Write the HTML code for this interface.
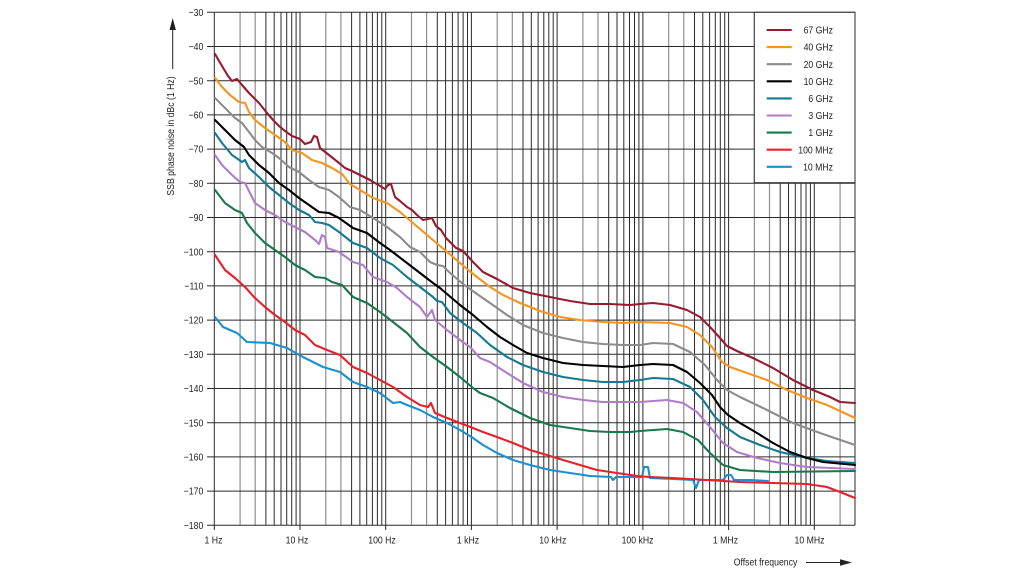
<!DOCTYPE html>
<html>
<head>
<meta charset="utf-8">
<style>
html,body{margin:0;padding:0;background:#fff;}
svg{display:block;}
text{font-family:"Liberation Sans",Arial,sans-serif;font-size:10px;fill:#222;}
</style>
</head>
<body>
<svg width="1024" height="576" viewBox="0 0 1024 576" xmlns="http://www.w3.org/2000/svg">
<rect x="0" y="0" width="1024" height="576" fill="#fff"/>

<!-- vertical grid: 2,3 gray -->
<g stroke="#8f8f8f" stroke-width="1.2">
<line x1="240.1" y1="12.3" x2="240.1" y2="525.3"/><line x1="255.2" y1="12.3" x2="255.2" y2="525.3"/>
<line x1="325.8" y1="12.3" x2="325.8" y2="525.3"/><line x1="340.9" y1="12.3" x2="340.9" y2="525.3"/>
<line x1="411.5" y1="12.3" x2="411.5" y2="525.3"/><line x1="426.6" y1="12.3" x2="426.6" y2="525.3"/>
<line x1="497.2" y1="12.3" x2="497.2" y2="525.3"/><line x1="512.3" y1="12.3" x2="512.3" y2="525.3"/>
<line x1="582.9" y1="12.3" x2="582.9" y2="525.3"/><line x1="598.0" y1="12.3" x2="598.0" y2="525.3"/>
<line x1="668.7" y1="12.3" x2="668.7" y2="525.3"/><line x1="683.8" y1="12.3" x2="683.8" y2="525.3"/>
<line x1="754.4" y1="12.3" x2="754.4" y2="525.3"/><line x1="769.5" y1="12.3" x2="769.5" y2="525.3"/>
<line x1="840.1" y1="12.3" x2="840.1" y2="525.3"/>
</g>
<g stroke="#2a2a2a" stroke-width="1">
<line x1="265.9" y1="12.3" x2="265.9" y2="525.3"/><line x1="274.2" y1="12.3" x2="274.2" y2="525.3"/><line x1="281.0" y1="12.3" x2="281.0" y2="525.3"/><line x1="286.7" y1="12.3" x2="286.7" y2="525.3"/><line x1="291.7" y1="12.3" x2="291.7" y2="525.3"/><line x1="296.1" y1="12.3" x2="296.1" y2="525.3"/>
<line x1="300.0" y1="12.3" x2="300.0" y2="525.3"/>
<line x1="351.6" y1="12.3" x2="351.6" y2="525.3"/><line x1="359.9" y1="12.3" x2="359.9" y2="525.3"/><line x1="366.7" y1="12.3" x2="366.7" y2="525.3"/><line x1="372.4" y1="12.3" x2="372.4" y2="525.3"/><line x1="377.4" y1="12.3" x2="377.4" y2="525.3"/><line x1="381.8" y1="12.3" x2="381.8" y2="525.3"/>
<line x1="385.7" y1="12.3" x2="385.7" y2="525.3"/>
<line x1="437.3" y1="12.3" x2="437.3" y2="525.3"/><line x1="445.6" y1="12.3" x2="445.6" y2="525.3"/><line x1="452.4" y1="12.3" x2="452.4" y2="525.3"/><line x1="458.1" y1="12.3" x2="458.1" y2="525.3"/><line x1="463.1" y1="12.3" x2="463.1" y2="525.3"/><line x1="467.5" y1="12.3" x2="467.5" y2="525.3"/>
<line x1="471.4" y1="12.3" x2="471.4" y2="525.3"/>
<line x1="523.0" y1="12.3" x2="523.0" y2="525.3"/><line x1="531.3" y1="12.3" x2="531.3" y2="525.3"/><line x1="538.1" y1="12.3" x2="538.1" y2="525.3"/><line x1="543.8" y1="12.3" x2="543.8" y2="525.3"/><line x1="548.8" y1="12.3" x2="548.8" y2="525.3"/><line x1="553.2" y1="12.3" x2="553.2" y2="525.3"/>
<line x1="557.1" y1="12.3" x2="557.1" y2="525.3"/>
<line x1="608.7" y1="12.3" x2="608.7" y2="525.3"/><line x1="617.0" y1="12.3" x2="617.0" y2="525.3"/><line x1="623.8" y1="12.3" x2="623.8" y2="525.3"/><line x1="629.5" y1="12.3" x2="629.5" y2="525.3"/><line x1="634.5" y1="12.3" x2="634.5" y2="525.3"/><line x1="638.9" y1="12.3" x2="638.9" y2="525.3"/>
<line x1="642.9" y1="12.3" x2="642.9" y2="525.3"/>
<line x1="694.5" y1="12.3" x2="694.5" y2="525.3"/><line x1="702.8" y1="12.3" x2="702.8" y2="525.3"/><line x1="709.6" y1="12.3" x2="709.6" y2="525.3"/><line x1="715.3" y1="12.3" x2="715.3" y2="525.3"/><line x1="720.3" y1="12.3" x2="720.3" y2="525.3"/><line x1="724.7" y1="12.3" x2="724.7" y2="525.3"/>
<line x1="728.6" y1="12.3" x2="728.6" y2="525.3"/>
<line x1="780.2" y1="12.3" x2="780.2" y2="525.3"/><line x1="788.5" y1="12.3" x2="788.5" y2="525.3"/><line x1="795.3" y1="12.3" x2="795.3" y2="525.3"/><line x1="801.0" y1="12.3" x2="801.0" y2="525.3"/><line x1="806.0" y1="12.3" x2="806.0" y2="525.3"/><line x1="810.4" y1="12.3" x2="810.4" y2="525.3"/>
<line x1="814.3" y1="12.3" x2="814.3" y2="525.3"/>
</g>

<!-- horizontal grid + left ticks -->
<g stroke="#2a2a2a" stroke-width="1">
<line x1="207" y1="12.3" x2="855" y2="12.3"/>
<line x1="207" y1="46.5" x2="855" y2="46.5"/>
<line x1="207" y1="80.7" x2="855" y2="80.7"/>
<line x1="207" y1="114.9" x2="855" y2="114.9"/>
<line x1="207" y1="149.1" x2="855" y2="149.1"/>
<line x1="207" y1="183.3" x2="855" y2="183.3"/>
<line x1="207" y1="217.5" x2="855" y2="217.5"/>
<line x1="207" y1="251.7" x2="855" y2="251.7"/>
<line x1="207" y1="285.9" x2="855" y2="285.9"/>
<line x1="207" y1="320.1" x2="855" y2="320.1"/>
<line x1="207" y1="354.3" x2="855" y2="354.3"/>
<line x1="207" y1="388.5" x2="855" y2="388.5"/>
<line x1="207" y1="422.7" x2="855" y2="422.7"/>
<line x1="207" y1="456.9" x2="855" y2="456.9"/>
<line x1="207" y1="491.1" x2="855" y2="491.1"/>
<line x1="207" y1="525.3" x2="855" y2="525.3"/>
<!-- borders -->
<line x1="214.3" y1="12.3" x2="214.3" y2="530"/>
<line x1="855" y1="12.3" x2="855" y2="525.3"/>
<!-- bottom ticks -->
<line x1="300.0" y1="525.3" x2="300.0" y2="530"/>
<line x1="385.7" y1="525.3" x2="385.7" y2="530"/>
<line x1="471.4" y1="525.3" x2="471.4" y2="530"/>
<line x1="557.1" y1="525.3" x2="557.1" y2="530"/>
<line x1="642.9" y1="525.3" x2="642.9" y2="530"/>
<line x1="728.6" y1="525.3" x2="728.6" y2="530"/>
<line x1="814.3" y1="525.3" x2="814.3" y2="530"/>
</g>

<!-- curves -->
<g fill="none" stroke-width="2.1" stroke-linejoin="round" stroke-linecap="round">
<polyline stroke="#1b8fd0" points="215,317 223,327 237,333 247,342 270,343 287,348 303,357 323,367 340,372 353,382 367,387 380,393 393,403 400,402 407,405 420,410 433,417 447,423 460,430 473,438 483,445 497,453 513,460 530,465 550,470 570,473 590,476 611,477 613,480 616,477 630,477 642,477 644,467 648,467 650,478 673,479 693,480 696,488 699,480 723,480 727,475 731,475 734,480 750,480 768,481"/>
<polyline stroke="#e8202a" points="215,255 225,270 235,278 245,287 255,298 265,307 275,315 285,322 295,330 305,335 315,345 327,350 340,355 353,367 367,373 380,380 393,387 407,397 420,405 428,407 431,403 435,413 447,418 460,423 473,428 483,432 497,437 513,443 530,450 547,455 563,460 580,465 597,470 617,473 637,476 650,477 673,478 707,480 740,482 773,483 807,484 827,487 840,492 855,498"/>
<polyline stroke="#17794a" points="215,190 225,203 235,210 242,213 247,223 255,233 265,243 275,250 285,257 295,265 305,270 315,277 325,278 332,282 342,285 353,297 367,303 380,312 393,322 407,333 420,347 433,357 447,367 460,377 473,388 480,393 493,398 510,408 530,418 550,425 570,428 590,431 610,432 630,432 640,431 667,429 683,432 698,440 710,453 723,465 740,470 773,472 855,471"/>
<polyline stroke="#b07cc8" points="215,155 222,165 232,175 240,182 245,183 250,193 255,203 265,210 275,215 285,222 295,227 305,232 315,240 319,244 322,235 325,237 327,248 339,252 353,262 363,265 373,277 387,282 397,288 407,297 420,307 427,317 432,310 435,320 447,330 460,340 470,347 480,358 490,362 507,373 523,383 543,392 563,397 583,400 603,402 623,402 640,402 667,400 683,403 697,412 710,427 723,443 737,452 757,458 780,463 807,467 855,469"/>
<polyline stroke="#137a91" points="215,133 222,143 232,155 242,162 245,160 249,168 259,177 269,187 279,195 289,203 299,210 309,215 315,222 322,223 329,225 339,232 353,243 367,248 380,258 393,265 407,277 420,287 433,297 437,301 442,302 450,313 463,323 477,333 490,345 507,357 523,365 543,372 563,377 583,380 603,382 623,382 640,380 653,378 673,379 690,387 703,400 715,417 727,428 740,437 760,445 780,452 807,458 827,461 855,463"/>
<polyline stroke="#000" points="215,120 225,130 235,140 244,147 249,155 259,165 269,173 279,183 289,190 299,198 309,205 319,212 329,213 339,218 353,228 367,233 380,243 390,250 407,263 420,273 433,283 440,288 447,294 460,305 473,315 487,327 500,337 513,345 527,353 543,358 563,363 583,365 603,366 623,367 640,365 653,364 673,365 687,372 700,383 712,395 720,407 728,415 740,423 757,433 773,443 790,452 807,458 823,462 855,465"/>
<polyline stroke="#8c8c8c" points="215,98 222,105 229,112 235,118 242,123 249,132 255,140 262,147 272,153 279,158 289,167 299,172 309,180 319,187 329,190 339,197 350,207 360,210 373,218 387,227 400,237 410,247 420,252 430,262 437,265 443,266 450,273 463,284 477,294 490,303 507,315 523,325 543,333 563,338 583,342 603,344 623,345 640,345 653,343 673,344 690,352 705,365 717,380 727,390 740,397 767,410 793,423 820,433 855,445"/>
<polyline stroke="#f7941d" points="215,78 222,87 230,95 239,102 245,103 249,112 255,120 265,128 275,135 285,142 292,150 302,153 312,160 322,163 332,168 342,174 350,184 360,190 373,198 387,203 400,212 413,223 427,235 440,246 453,257 467,269 477,277 490,287 503,295 520,303 540,311 560,317 580,320 603,322 623,323 640,322 670,323 687,327 700,335 712,347 722,362 730,367 747,373 767,380 787,390 807,398 827,405 855,418"/>
<polyline stroke="#961b2f" points="215,54 222,66 228,76 232,81 237,79 242,85 249,93 259,103 267,113 274,121 279,126 285,131 292,136 300,139 305,144 311,142 314,136 317,137 320,148 329,155 339,163 345,168 352,171 360,175 370,180 380,186 385,189 388,185 391,184 395,197 400,201 407,207 412,210 417,215 423,220 428,219 432,218 436,226 441,230 446,238 450,242 456,248 463,251 473,262 483,272 497,279 513,288 530,293 550,297 570,301 590,304 610,304 630,305 640,304 653,303 670,305 687,310 700,317 710,327 720,338 727,346 737,351 753,358 773,368 793,380 813,390 830,397 840,402 855,403"/>
</g>

<!-- legend -->
<rect x="754.3" y="12.3" width="100.7" height="170.4" fill="#fff" stroke="#2a2a2a" stroke-width="1"/>
<g stroke-width="2.1">
<line x1="766.7" y1="30" x2="791.7" y2="30" stroke="#961b2f"/>
<line x1="766.7" y1="47.1" x2="791.7" y2="47.1" stroke="#f7941d"/>
<line x1="766.7" y1="64.2" x2="791.7" y2="64.2" stroke="#8c8c8c"/>
<line x1="766.7" y1="81.3" x2="791.7" y2="81.3" stroke="#000"/>
<line x1="766.7" y1="98.4" x2="791.7" y2="98.4" stroke="#137a91"/>
<line x1="766.7" y1="115.5" x2="791.7" y2="115.5" stroke="#b07cc8"/>
<line x1="766.7" y1="132.6" x2="791.7" y2="132.6" stroke="#17794a"/>
<line x1="766.7" y1="149.7" x2="791.7" y2="149.7" stroke="#e8202a"/>
<line x1="766.7" y1="166.8" x2="791.7" y2="166.8" stroke="#1b8fd0"/>
</g>
<g transform="scale(0.87,1)" text-anchor="end">
<text x="957.5" y="33.6">67 GHz</text>
<text x="957.5" y="50.7">40 GHz</text>
<text x="957.5" y="67.8">20 GHz</text>
<text x="957.5" y="84.9">10 GHz</text>
<text x="957.5" y="102">6 GHz</text>
<text x="957.5" y="119.1">3 GHz</text>
<text x="957.5" y="136.2">1 GHz</text>
<text x="957.5" y="153.3">100 MHz</text>
<text x="957.5" y="170.4">10 MHz</text>
</g>

<!-- y tick labels -->
<g transform="scale(0.87,1)" text-anchor="end">
<text x="233.7" y="15.9">−30</text>
<text x="233.7" y="50.1">−40</text>
<text x="233.7" y="84.3">−50</text>
<text x="233.7" y="118.5">−60</text>
<text x="233.7" y="152.7">−70</text>
<text x="233.7" y="186.9">−80</text>
<text x="233.7" y="221.1">−90</text>
<text x="233.7" y="255.3">−100</text>
<text x="233.7" y="289.5">−110</text>
<text x="233.7" y="323.7">−120</text>
<text x="233.7" y="357.9">−130</text>
<text x="233.7" y="392.1">−140</text>
<text x="233.7" y="426.3">−150</text>
<text x="233.7" y="460.5">−160</text>
<text x="233.7" y="494.7">−170</text>
<text x="233.7" y="528.9">−180</text>
</g>

<!-- x tick labels -->
<g transform="scale(0.87,1)" text-anchor="middle">
<text x="245.4" y="543.5">1 Hz</text>
<text x="341.4" y="543.5">10 Hz</text>
<text x="439.1" y="543.5">100 Hz</text>
<text x="537.9" y="543.5">1 kHz</text>
<text x="635.4" y="543.5">10 kHz</text>
<text x="732.8" y="543.5">100 kHz</text>
<text x="833.9" y="543.5">1 MHz</text>
<text x="930.5" y="543.5">10 MHz</text>
</g>

<!-- x axis title -->
<g transform="scale(0.87,1)" text-anchor="middle">
<text x="879.9" y="565.5">Offset frequency</text>
</g>
<line x1="806" y1="562.5" x2="842" y2="562.5" stroke="#222" stroke-width="1"/>
<polygon points="852,562.5 840,559.3 840,565.7" fill="#222"/>

<!-- y axis title -->
<text transform="translate(174,136) rotate(-90) scale(0.87,1)" text-anchor="middle">SSB phase noise in dBc (1 Hz)</text>
<line x1="172.7" y1="69" x2="172.7" y2="28" stroke="#222" stroke-width="1"/>
<polygon points="172.7,18 169.5,30 175.9,30" fill="#222"/>
</svg>
</body>
</html>
